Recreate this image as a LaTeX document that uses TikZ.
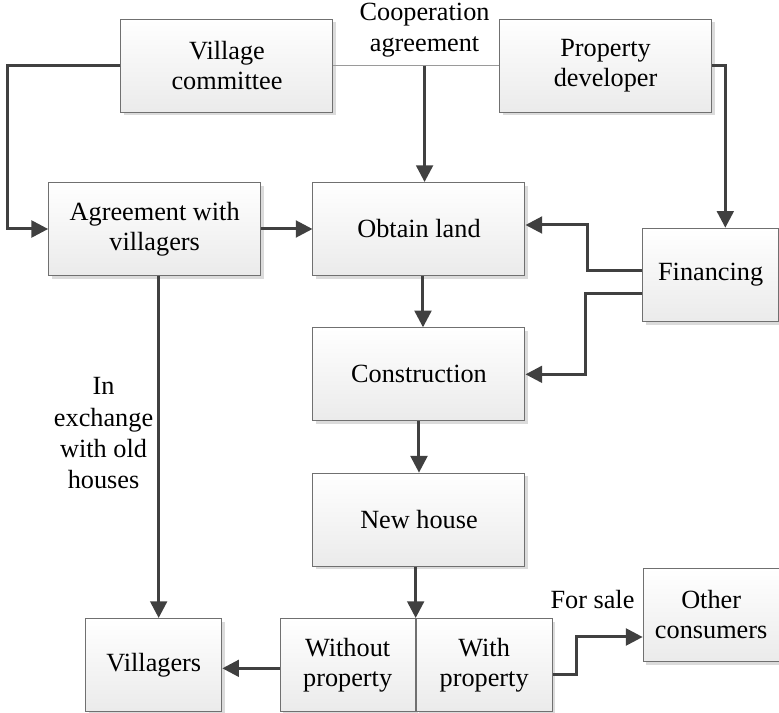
\documentclass[tikz,border=0pt]{standalone}
\usepackage{fontspec}
\setmainfont{Liberation Serif}
\usepackage{xcolor}
\usetikzlibrary{shapes,arrows.meta,positioning,shadows,calc}

\definecolor{linegray}{HTML}{404040}
\definecolor{boxedge}{HTML}{707070}
\definecolor{thingray}{HTML}{9A9A9A}

\tikzset{
  box/.style={draw=boxedge,line width=0.75pt,rectangle,top color=white,bottom color=black!8,
    minimum width=159pt,minimum height=69.75pt,inner sep=0pt,align=center,
    font=\fontsize{19.7pt}{22.5pt}\selectfont,
    drop shadow={shadow xshift=2.5pt,shadow yshift=-2.5pt,fill=black!14,opacity=1}},
  smallbox/.style={box,minimum width=102pt},
  flow/.style={draw=linegray,line width=2.25pt,-{Triangle[length=12.5pt,width=12.5pt]}},
  thinline/.style={draw=thingray,line width=0.8pt},
  lbl/.style={align=center,inner sep=0pt,font=\fontsize{19.7pt}{23.5pt}\selectfont}
}

\begin{document}
\begin{tikzpicture}[node distance=38.5pt]
\useasboundingbox (-314.25pt,-363pt) rectangle (270pt,171.75pt);

% Main column
\node[box] (land) {Obtain land};
\node[box,left=of land] (agree) {Agreement with\\villagers};
\node[box,below=of land] (build) {Construction};
\node[box,below=of build] (house) {New house};
\node[box,below=of house,anchor=north east,xshift=-2.5pt,minimum width=101.25pt] (without) {Without\\property};
\node[box,right=0pt of without,minimum width=102pt] (with) {With\\property};
\node[smallbox,left=43pt of without] (vill) {Villagers};
\node[smallbox,right=87.5pt of land,yshift=-34.3pt] (fin) {Financing};
\node[smallbox,right=67.5pt of with,yshift=37.5pt] (other) {Other\\consumers};

% Top row
\node[box,above=52pt of land,xshift=-144pt] (village) {Village\\committee};
\node[box,right=124.2pt of village] (dev) {Property\\developer};

\draw[thinline] (village.east) -- (dev.west);
\coordinate (coop) at ($(village.east)!0.55!(dev.west)$);
\node[lbl,above=6pt of coop] (cooptext) {Cooperation\\agreement};

\draw[flow] (coop) -- (coop |- land.north);
\draw[flow] (village.west) -- ++(-85pt,0) |- (agree.west);
\draw[flow] (dev.east) -| ([xshift=11pt]fin.north);
\draw[flow] (agree.east) -- (land.west);
\draw[flow] ([xshift=3pt]land.south) -- ([xshift=3pt]build.north);
\draw[flow] (build) -- (house);
\draw[flow] (without.north east |- house.south) -- (without.north east);
\draw[flow] ([yshift=3pt]fin.west) -- ++(-41pt,0) |- ([yshift=3pt]land.east);
\draw[flow] ([yshift=-14pt]fin.west) -- ++(-42.5pt,0) |- (build.east);

% Bottom row
\draw[flow] ([xshift=3pt]agree.south) -- ([xshift=3pt]agree.south |- vill.north)
  node[lbl,pos=0.46,left=3pt] {In\\exchange\\with old\\houses};
\draw[flow] ([yshift=-2.5pt]without.west) -- ([yshift=-2.5pt]vill.east);
\draw[flow] ([yshift=-7.5pt]with.east) -- ++(18pt,0) |- ([yshift=-16.5pt]other.west)
  node[lbl,pos=0.62,above=20pt] {For sale};
\end{tikzpicture}
\end{document}
